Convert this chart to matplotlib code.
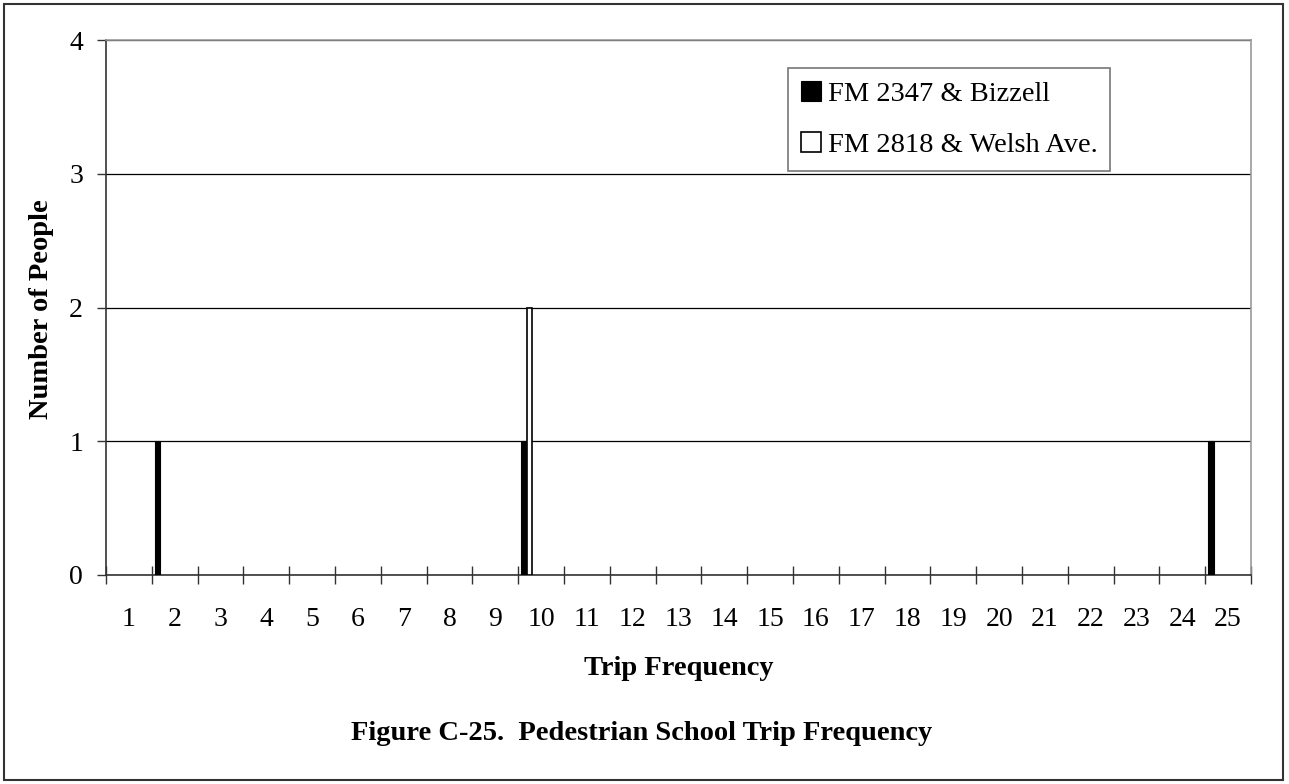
import matplotlib.pyplot as plt
import matplotlib.patches as patches
import numpy as np

plt.rcParams['font.family'] = ['Liberation Serif', 'DejaVu Serif']

categories = list(range(1, 26))
bizzell = [0, 1, 0, 0, 0, 0, 0, 0, 0, 1, 0, 0, 0, 0, 0, 0, 0, 0, 0, 0, 0, 0, 0, 0, 1]
welsh = [0, 0, 0, 0, 0, 0, 0, 0, 0, 2, 0, 0, 0, 0, 0, 0, 0, 0, 0, 0, 0, 0, 0, 0, 0]
series_names = ['FM 2347 & Bizzell', 'FM 2818 & Welsh Ave.']

fig = plt.figure(figsize=(12.89, 7.84), dpi=100)
ax = fig.add_axes([106 / 1289, 209 / 784, 1145 / 1289, 535 / 784])

x = np.array(categories, dtype=float)
# zero counts are not drawn at all
h1 = np.array(bizzell, dtype=float)
h1[h1 == 0] = np.nan
h2 = np.array(welsh, dtype=float)
h2[h2 == 0] = np.nan

w = 0.125
start = x - 0.5 + 0.06
b1 = ax.bar(start, h1, width=w, align='edge', color='black', edgecolor='black', linewidth=0.8, zorder=3)
b2 = ax.bar(start + w, h2, width=w, align='edge', color='white', edgecolor='black', linewidth=1.2, zorder=3)

ax.set_xlim(0.5, 25.5)
ax.set_ylim(0, 4)
ax.set_yticks([0, 1, 2, 3, 4])
ax.yaxis.grid(True, color='black', linewidth=0.9, zorder=0)
ax.set_axisbelow(True)

# category ticks sit on the boundaries, labels in the middle
ax.set_xticks(np.arange(0.5, 26, 1.0))
ax.set_xticklabels([])
ax.set_xticks(x, minor=True)
ax.set_xticklabels([str(c) for c in categories], minor=True, fontsize=20)
ax.tick_params(axis='x', which='major', direction='inout', length=13, width=1, color='#333333')
ax.tick_params(axis='x', which='minor', length=0, pad=23)
ax.tick_params(axis='y', direction='out', length=6.5, width=1, labelsize=20, pad=10, color='#333333')

for s in ['left', 'bottom']:
    ax.spines[s].set_color('#333333')
    ax.spines[s].set_linewidth(1.2)
for s in ['top', 'right']:
    ax.spines[s].set_color('#999999')
    ax.spines[s].set_linewidth(1.2)

ax.set_xlabel('Trip Frequency', fontsize=20.5, fontweight='bold', labelpad=17)
fig.text(42 / 1289, (784 - 309) / 784, 'Number of People', rotation=90, ha='center', va='center',
         fontsize=20.5, fontweight='bold')

leg = ax.legend([b1, b2], series_names, loc='upper left', bbox_to_anchor=(0.5956, 0.9477),
                fontsize=20.5, frameon=True, fancybox=False, edgecolor='#555555',
                handlelength=0.7, handleheight=0.7, handletextpad=0.25, labelspacing=0.88,
                borderpad=0.45, borderaxespad=0)
leg.get_frame().set_linewidth(1.2)

fig.text(0.498, (784 - 740) / 784, 'Figure C-25.  Pedestrian School Trip Frequency', ha='center',
         va='baseline', fontsize=20.5, fontweight='bold')

fig.patches.append(patches.Rectangle((4 / 1289, 4 / 784), 1279 / 1289, 776 / 784, transform=fig.transFigure,
                                     fill=False, edgecolor='#333333', linewidth=1.5))

fig.savefig('out.png', dpi=100)
